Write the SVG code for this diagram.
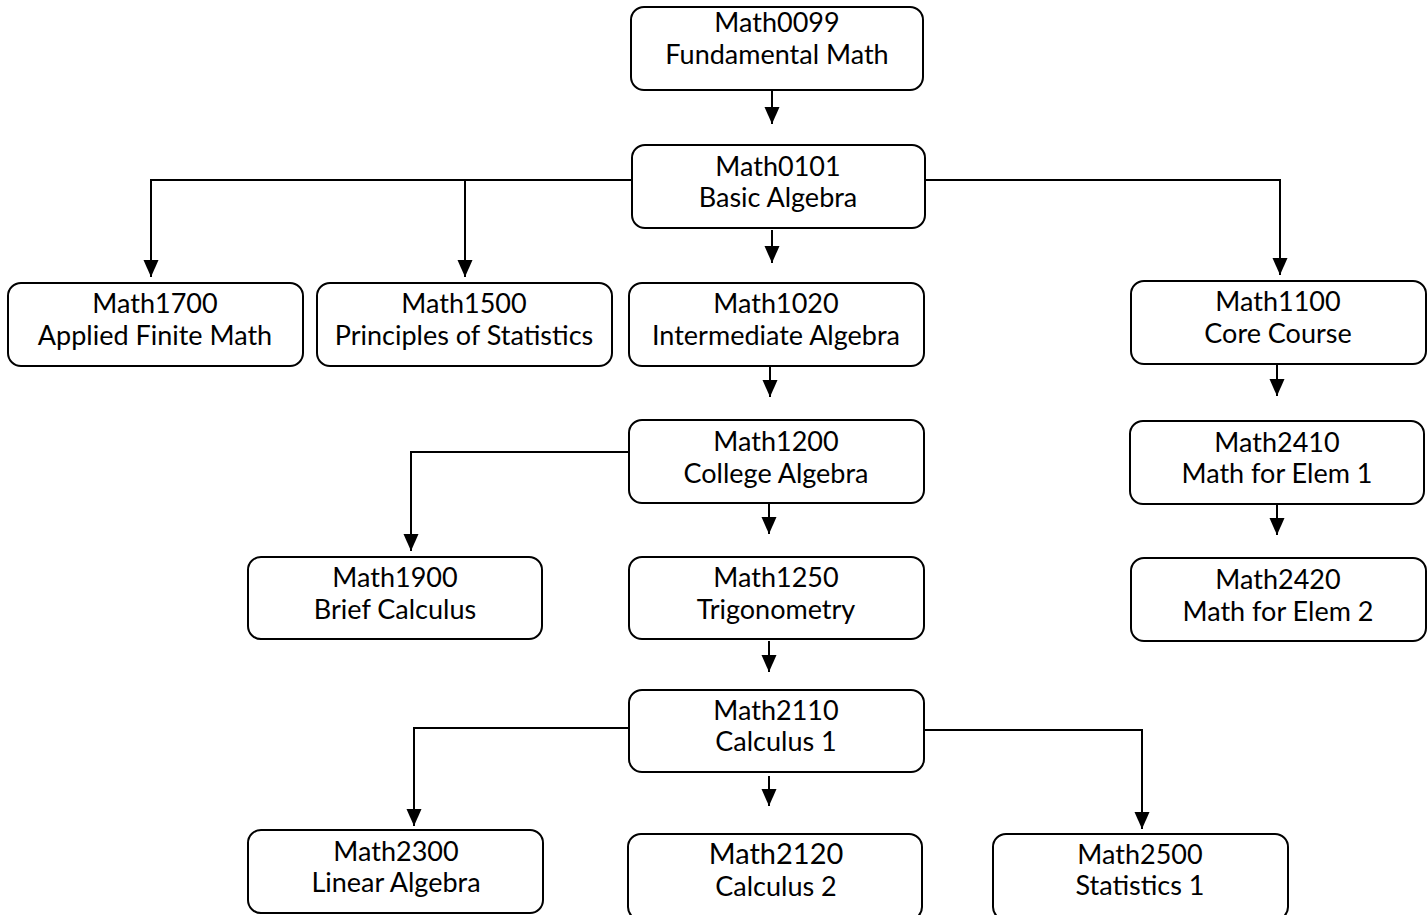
<svg xmlns="http://www.w3.org/2000/svg" width="1427" height="915" viewBox="0 0 1427 915">
<style>
.box{fill:#fff;stroke:#000;stroke-width:2}
.t{font-family:Lato,"Open Sans",sans-serif;font-size:27px;fill:#000;text-anchor:middle}
.c{fill:none;stroke:#000;stroke-width:2}
</style>
<defs>
<marker id="ah" markerUnits="userSpaceOnUse" markerWidth="18" markerHeight="16" refX="17" refY="7.5" orient="auto" viewBox="0 0 18 16">
<path d="M0,0 L17,7.5 L0,15 Z" fill="#000"/>
</marker>
</defs>
<g id="connectors">
<path class="c" d="M772,90 V124" marker-end="url(#ah)"/>
<path class="c" d="M772,230 V263" marker-end="url(#ah)"/>
<path class="c" d="M632,180 H151 V277" marker-end="url(#ah)"/>
<path class="c" d="M465,180 V277" marker-end="url(#ah)"/>
<path class="c" d="M925,180 H1280 V275" marker-end="url(#ah)"/>
<path class="c" d="M770,366 V397" marker-end="url(#ah)"/>
<path class="c" d="M1277,365 V396" marker-end="url(#ah)"/>
<path class="c" d="M1277,505 V535" marker-end="url(#ah)"/>
<path class="c" d="M629,452 H411 V551" marker-end="url(#ah)"/>
<path class="c" d="M769,504 V534" marker-end="url(#ah)"/>
<path class="c" d="M769,641 V672" marker-end="url(#ah)"/>
<path class="c" d="M629,728 H414 V826" marker-end="url(#ah)"/>
<path class="c" d="M769,776 V806" marker-end="url(#ah)"/>
<path class="c" d="M924,730 H1142 V829" marker-end="url(#ah)"/>
</g>
<g id="math0099"><rect class="box" x="631" y="7" width="292" height="83" rx="13"/><text class="t" x="777" y="32">Math0099</text><text class="t" x="777" y="64">Fundamental Math</text></g>
<g id="math0101"><rect class="box" x="632" y="145" width="293" height="83" rx="13"/><text class="t" x="778" y="176">Math0101</text><text class="t" x="778" y="207">Basic Algebra</text></g>
<g id="math1700"><rect class="box" x="8" y="283" width="295" height="83" rx="13"/><text class="t" x="155" y="313">Math1700</text><text class="t" x="155" y="345">Applied Finite Math</text></g>
<g id="math1500"><rect class="box" x="317" y="283" width="295" height="83" rx="13"/><text class="t" x="464" y="313">Math1500</text><text class="t" x="464" y="345">Principles of Statistics</text></g>
<g id="math1020"><rect class="box" x="629" y="283" width="295" height="83" rx="13"/><text class="t" x="776" y="313">Math1020</text><text class="t" x="776" y="345">Intermediate Algebra</text></g>
<g id="math1100"><rect class="box" x="1131" y="281" width="295" height="83" rx="13"/><text class="t" x="1278" y="311">Math1100</text><text class="t" x="1278" y="343">Core Course</text></g>
<g id="math1200"><rect class="box" x="629" y="420" width="295" height="83" rx="13"/><text class="t" x="776" y="451">Math1200</text><text class="t" x="776" y="483">College Algebra</text></g>
<g id="math2410"><rect class="box" x="1130" y="421" width="294" height="83" rx="13"/><text class="t" x="1277" y="452">Math2410</text><text class="t" x="1277" y="483">Math for Elem 1</text></g>
<g id="math1900"><rect class="box" x="248" y="557" width="294" height="82" rx="13"/><text class="t" x="395" y="587">Math1900</text><text class="t" x="395" y="619">Brief Calculus</text></g>
<g id="math1250"><rect class="box" x="629" y="557" width="295" height="82" rx="13"/><text class="t" x="776" y="587">Math1250</text><text class="t" x="776" y="619">Trigonometry</text></g>
<g id="math2420"><rect class="box" x="1131" y="558" width="295" height="83" rx="13"/><text class="t" x="1278" y="589">Math2420</text><text class="t" x="1278" y="621">Math for Elem 2</text></g>
<g id="math2110"><rect class="box" x="629" y="690" width="295" height="82" rx="13"/><text class="t" x="776" y="720">Math2110</text><text class="t" x="776" y="751">Calculus 1</text></g>
<g id="math2300"><rect class="box" x="248" y="830" width="295" height="83" rx="13"/><text class="t" x="396" y="861">Math2300</text><text class="t" x="396" y="892">Linear Algebra</text></g>
<g id="math2120"><rect class="box" x="628" y="834" width="294" height="86" rx="13"/><text class="t" x="776" y="864" style="font-size:29px">Math2120</text><text class="t" x="776" y="896">Calculus 2</text></g>
<g id="math2500"><rect class="box" x="993" y="834" width="295" height="86" rx="13"/><text class="t" x="1140" y="864">Math2500</text><text class="t" x="1140" y="895">Statistics 1</text></g>
</svg>
